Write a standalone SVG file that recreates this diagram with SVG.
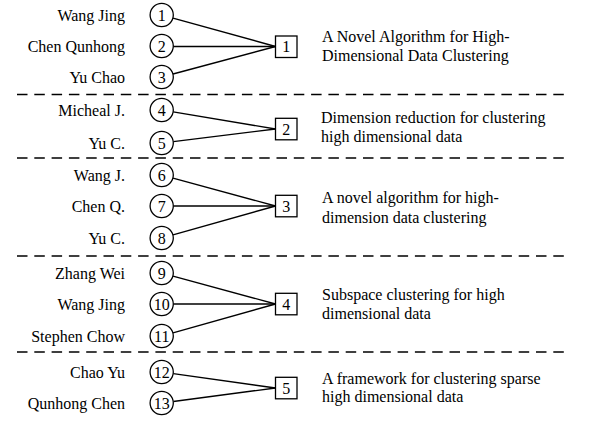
<svg xmlns="http://www.w3.org/2000/svg" width="591" height="422" viewBox="0 0 591 422">
<style>
text{font-family:'Liberation Serif',Tinos,'Times New Roman',Times,serif;font-size:16px;fill:#000}
.name{text-anchor:end}
.num{text-anchor:middle}
.c{fill:#fff;stroke:#000;stroke-width:1.3}
.b{fill:#fff;stroke:#000;stroke-width:1.3}
.e{stroke:#000;stroke-width:1.4;fill:none}
.sep{stroke:#000;stroke-width:1.5;stroke-dasharray:10.5 6.8;fill:none}
</style>
<rect width="591" height="422" fill="#fff"/>
<g id="separators">
<line class="sep" x1="17" y1="94.5" x2="564" y2="94.5"/>
<line class="sep" x1="17" y1="158" x2="564" y2="158"/>
<line class="sep" x1="17" y1="256" x2="564" y2="256"/>
<line class="sep" x1="17" y1="352" x2="564" y2="352"/>
</g>
<g id="connectors">
<line class="e" x1="173" y1="18.1" x2="275.5" y2="46.5"/>
<line class="e" x1="173.4" y1="46.5" x2="275.5" y2="46.5"/>
<line class="e" x1="173" y1="74" x2="275.5" y2="46.5"/>
<line class="e" x1="173.2" y1="111.9" x2="275.5" y2="129"/>
<line class="e" x1="173.3" y1="141.6" x2="275.5" y2="129"/>
<line class="e" x1="173" y1="178.1" x2="275.5" y2="206"/>
<line class="e" x1="173.4" y1="206" x2="275.5" y2="206"/>
<line class="e" x1="173" y1="234.8" x2="275.5" y2="206"/>
<line class="e" x1="173" y1="276.1" x2="275.5" y2="304"/>
<line class="e" x1="173.4" y1="304" x2="275.5" y2="304"/>
<line class="e" x1="173" y1="332.8" x2="275.5" y2="304"/>
<line class="e" x1="173.3" y1="373.6" x2="275.5" y2="388"/>
<line class="e" x1="173.3" y1="401.5" x2="275.5" y2="388"/>
</g>
<g font-family="Liberation Serif, serif" font-size="16">
<g id="a1"><text class="name" x="125" y="20.5">Wang Jing</text><circle class="c" cx="161.7" cy="15" r="11.6"/><text class="num" x="161.7" y="20.5">1</text></g>
<g id="a2"><text class="name" x="125" y="51.5">Chen Qunhong</text><circle class="c" cx="161.7" cy="46" r="11.6"/><text class="num" x="161.7" y="51.5">2</text></g>
<g id="a3"><text class="name" x="125" y="82.5">Yu Chao</text><circle class="c" cx="161.7" cy="77" r="11.6"/><text class="num" x="161.7" y="82.5">3</text></g>
<g id="a4"><text class="name" x="125" y="115.5">Micheal J.</text><circle class="c" cx="161.7" cy="110" r="11.6"/><text class="num" x="161.7" y="115.5">4</text></g>
<g id="a5"><text class="name" x="125" y="148.5">Yu C.</text><circle class="c" cx="161.7" cy="143" r="11.6"/><text class="num" x="161.7" y="148.5">5</text></g>
<g id="a6"><text class="name" x="125" y="180.5">Wang J.</text><circle class="c" cx="161.7" cy="175" r="11.6"/><text class="num" x="161.7" y="180.5">6</text></g>
<g id="a7"><text class="name" x="125" y="211.5">Chen Q.</text><circle class="c" cx="161.7" cy="206" r="11.6"/><text class="num" x="161.7" y="211.5">7</text></g>
<g id="a8"><text class="name" x="125" y="243.5">Yu C.</text><circle class="c" cx="161.7" cy="238" r="11.6"/><text class="num" x="161.7" y="243.5">8</text></g>
<g id="a9"><text class="name" x="125" y="278.5">Zhang Wei</text><circle class="c" cx="161.7" cy="273" r="11.6"/><text class="num" x="161.7" y="278.5">9</text></g>
<g id="a10"><text class="name" x="125" y="309.5">Wang Jing</text><circle class="c" cx="161.7" cy="304" r="11.6"/><text class="num" x="161.7" y="309.5">10</text></g>
<g id="a11"><text class="name" x="125" y="341.5">Stephen Chow</text><circle class="c" cx="161.7" cy="336" r="11.6"/><text class="num" x="161.7" y="341.5">11</text></g>
<g id="a12"><text class="name" x="125" y="377.5">Chao Yu</text><circle class="c" cx="161.7" cy="372" r="11.6"/><text class="num" x="161.7" y="377.5">12</text></g>
<g id="a13"><text class="name" x="125" y="408.5">Qunhong Chen</text><circle class="c" cx="161.7" cy="403" r="11.6"/><text class="num" x="161.7" y="408.5">13</text></g>
<g id="p1"><rect class="b" x="275.5" y="36" width="21.5" height="21.5"/><text class="num" x="286.3" y="52.3">1</text><text x="322" y="42">A Novel Algorithm for High-</text><text x="322" y="60.5">Dimensional Data Clustering</text></g>
<g id="p2"><rect class="b" x="275.5" y="118.3" width="21.5" height="21.5"/><text class="num" x="286.3" y="134.6">2</text><text x="321" y="123">Dimension reduction for clustering</text><text x="321" y="142">high dimensional data</text></g>
<g id="p3"><rect class="b" x="275.5" y="195.3" width="21.5" height="21.5"/><text class="num" x="286.3" y="211.6">3</text><text x="322" y="203">A novel algorithm for high-</text><text x="322" y="222.5">dimension data clustering</text></g>
<g id="p4"><rect class="b" x="275.5" y="293.3" width="21.5" height="21.5"/><text class="num" x="286.3" y="309.6">4</text><text x="322" y="300">Subspace clustering for high</text><text x="322" y="318.5">dimensional data</text></g>
<g id="p5"><rect class="b" x="275.5" y="377.3" width="21.5" height="21.5"/><text class="num" x="286.3" y="393.6">5</text><text x="322" y="383.5">A framework for clustering sparse</text><text x="322" y="402">high dimensional data</text></g>
</g>
</svg>
